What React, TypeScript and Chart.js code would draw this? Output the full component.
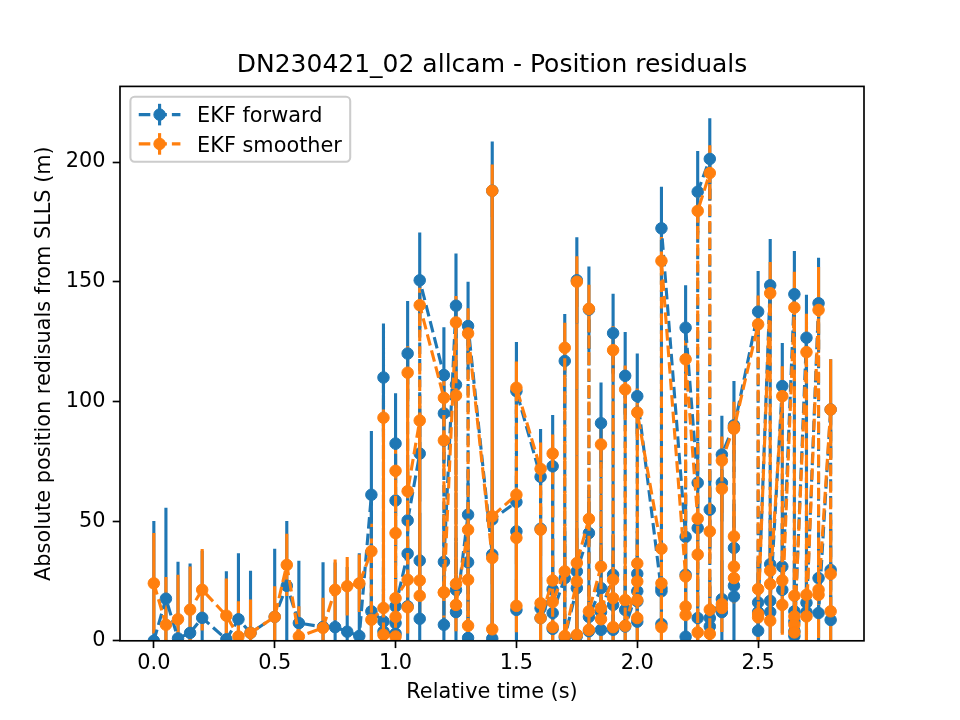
import { useEffect, useRef } from "react";
import { Chart, registerables } from "chart.js";

Chart.register(...registerables);

const TITLE = "DN230421_02 allcam - Position residuals";
const X_LABEL = "Relative time (s)";
const Y_LABEL = "Absolute position redisuals from SLLS (m)";
const SERIES_NAMES = ["EKF forward", "EKF smoother"];
const SERIES_COLORS = ["#1f77b4", "#ff7f0e"];
const X_TICKS = [0, 0.5, 1.0, 1.5, 2.0, 2.5];
const Y_TICKS = [0, 50, 100, 150, 200];

// Filter time steps and the 1-sigma position uncertainty (m) at each step
const STEP_TIMES = [
  0, 0.05, 0.1, 0.15, 0.2, 0.3, 0.35, 0.4, 0.5, 0.55, 0.6, 0.7, 0.75, 0.8, 0.85,
  0.9, 0.95, 1.0, 1.05, 1.1, 1.2, 1.25, 1.3, 1.4, 1.5, 1.6, 1.65, 1.7, 1.75, 1.8,
  1.85, 1.9, 1.95, 2.0, 2.1, 2.2, 2.25, 2.3, 2.35, 2.4, 2.5, 2.55, 2.6, 2.65, 2.7,
  2.75, 2.8,
];
const FORWARD_SIGMA = [
  50, 38, 32, 29, 28, 28.5, 27.6, 26, 28.5, 27, 26, 27, 27, 27, 34.6,
  26.6, 22.6, 21, 22, 20, 20, 21.8, 18.5, 20.6, 20.5, 20, 21.4, 19.6, 18, 18,
  17, 16.5, 18.3, 17.8, 17.4, 17.7, 17, 17, 16.2, 18.5, 17, 19.3, 18, 18, 18,
  19, 21,
];
const SMOOTHER_SIGMA = [
  21, 20, 18.6, 18, 17, 15.5, 14.7, 14, 12.8, 13, 12.6, 12.6, 12.7, 12.2, 12,
  11.5, 8, 10.5, 11, 11, 11, 11, 10.5, 11, 11, 11, 8, 10.5, 10.6, 10,
  10, 10, 10, 10, 10, 10, 10, 11.6, 10, 10.5, 12, 13, 12.5, 15, 16,
  18, 21,
];

// One entry per camera observation: time (s), forward and smoothed residuals (m)
const OBS_TIMES = [
  0, 0.05, 0.1, 0.15, 0.2, 0.3, 0.35, 0.4, 0.5, 0.55, 0.6, 0.7, 0.75, 0.8, 0.85,
  0.9, 0.9,
  0.95, 0.95, 0.95,
  1.0, 1.0, 1.0, 1.0, 1.0,
  1.05, 1.05, 1.05, 1.05,
  1.1, 1.1, 1.1, 1.1,
  1.2, 1.2, 1.2, 1.2,
  1.25, 1.25, 1.25, 1.25,
  1.3, 1.3, 1.3, 1.3,
  1.4, 1.4, 1.4, 1.4,
  1.5, 1.5, 1.5, 1.5,
  1.6, 1.6, 1.6, 1.6,
  1.65, 1.65, 1.65, 1.65,
  1.7, 1.7, 1.7,
  1.75, 1.75, 1.75, 1.75,
  1.8, 1.8, 1.8, 1.8,
  1.85, 1.85, 1.85, 1.85,
  1.9, 1.9, 1.9, 1.9,
  1.95, 1.95, 1.95,
  2.0, 2.0, 2.0, 2.0, 2.0,
  2.1, 2.1, 2.1, 2.1,
  2.2, 2.2, 2.2, 2.2,
  2.25, 2.25, 2.25, 2.25,
  2.3, 2.3, 2.3, 2.3,
  2.35, 2.35, 2.35, 2.35,
  2.4, 2.4, 2.4, 2.4, 2.4,
  2.5, 2.5, 2.5, 2.5,
  2.55, 2.55, 2.55, 2.55,
  2.6, 2.6, 2.6,
  2.65, 2.65, 2.65, 2.65, 2.65,
  2.7, 2.7, 2.7,
  2.75, 2.75, 2.75,
  2.8, 2.8, 2.8,
];
const FORWARD_RESID = [
  0, 17.6, 1, 3.3, 9.6, 0.6, 9, 3.3, 10, 23, 7.4, 5.8, 5.7, 3.8, 2,
  61, 12.3,
  8.1, 110, 3.9,
  3, 82.4, 58.6, 7.4, 14.4,
  36.4, 14.4, 120, 50.3,
  78.2, 33.5, 9.2, 150.6,
  111, 95, 6.7, 33,
  140, 21.3, 107, 12,
  52.7, 32.8, 1.2, 131.5,
  36, 188, 0.9, 50.7,
  58, 12.9, 45.7, 104.3,
  68.5, 13.6, 46.8, 9.5,
  21.4, 72.9, 5, 11.6,
  26.2, 116.9, 1.4,
  22, 150.6, 2, 29,
  45, 138.4, 4, 10,
  22, 90.9, 4.6, 12,
  27.6, 128.5, 4.6, 15,
  12.9, 110.7, 6,
  20.7, 28, 8, 16.5, 102.2,
  20.7, 22, 7, 172.3,
  43.4, 27.6, 1.7, 130.8,
  66, 9.5, 47.1, 187.6,
  201.3, 54.8, 6, 9.5,
  17.4, 66, 12, 77.8,
  90, 23, 18.5, 38.8, 89,
  137.5, 16, 4.2, 12,
  148.5, 32, 12, 16.7,
  106.4, 31, 21.3,
  144.8, 12.3, 8.1, 4, 2,
  126.6, 15.9, 12,
  141, 26.2, 11.6,
  96.6, 29.6, 8.7,
];
const SMOOTHER_RESID = [
  24, 6.7, 9, 13, 21.3, 10.5, 1.8, 3.3, 10, 31.7, 1.8, 5.4, 21.3, 22.8, 24,
  37.4, 8.8,
  13.7, 93.2, 2.5,
  1.8, 71, 45, 10, 17.8,
  25.5, 14, 112, 62.5,
  92, 25.2, 18.8, 140.2,
  101.5, 83.7, 20.2, 20.2,
  133, 23.8, 102.5, 15,
  46.4, 25.5, 6.3, 128.4,
  34.6, 188, 4.8, 52,
  61, 14.6, 43, 105.7,
  71.8, 15.7, 46.4, 9.5,
  25.2, 78.2, 5.7, 16.2,
  29, 122.4, 2,
  24.8, 150, 2.5, 32.5,
  50.9, 138.7, 4.6, 12.3,
  31, 82, 9, 13.7,
  25.5, 121.4, 5.7, 17.8,
  17, 105, 6.3,
  24.8, 32.3, 9.5, 17, 95.4,
  38.5, 24, 5.7, 158.7,
  26.9, 14.3, 10.8, 117.6,
  51, 3.5, 36, 179.6,
  195.4, 45.7, 2.9, 13,
  15.3, 63.5, 13.7, 75.3,
  89.4, 31, 26.2, 43.6, 88.6,
  132.2, 21.6, 9.8, 11.2,
  145.2, 29.3, 8.4, 23.7,
  102.2, 25.2, 15,
  139.2, 18.8, 10.2, 6.7, 3.5,
  120.6, 19.2, 10.2,
  138.2, 21.3, 19.2,
  96.6, 27.9, 12.3,
];

// Figure geometry (150 dpi, so 1 pt = 150/72 px)
const PT = 150 / 72;
const FONT = "DejaVu Sans";
const LABEL_SIZE = 10 * PT;
const LINE_W = 1.5 * PT;
const DASH = [3.7 * 1.5 * PT, 1.6 * 1.5 * PT];
const MARKER_R = 3 * PT - 0.5;
const TICK_LEN = 3.5 * PT;
const SPINE_W = 0.8 * PT;

const sigmaFor = (table: number[], t: number) => table[STEP_TIMES.indexOf(t)];
const FORWARD_ERR = OBS_TIMES.map((t) => sigmaFor(FORWARD_SIGMA, t));
const SMOOTHER_ERR = OBS_TIMES.map((t) => sigmaFor(SMOOTHER_SIGMA, t));
const SERIES_VALUES = [FORWARD_RESID, SMOOTHER_RESID];
const SERIES_ERRS = [FORWARD_ERR, SMOOTHER_ERR];

// Vertical error bars of both series, drawn beneath all lines and markers
const errorBarPlugin = {
  id: "errorBars",
  beforeDatasetsDraw(chart: any) {
    const { ctx, chartArea, scales } = chart;
    const yScale = scales.y;
    ctx.save();
    ctx.beginPath();
    ctx.rect(chartArea.left, chartArea.top, chartArea.right - chartArea.left, chartArea.bottom - chartArea.top);
    ctx.clip();
    SERIES_VALUES.forEach((vals, di) => {
      const meta = chart.getDatasetMeta(di);
      const errs = SERIES_ERRS[di];
      ctx.strokeStyle = SERIES_COLORS[di];
      ctx.lineWidth = LINE_W;
      ctx.lineCap = "butt";
      ctx.beginPath();
      meta.data.forEach((pt: any, i: number) => {
        ctx.moveTo(pt.x, yScale.getPixelForValue(vals[i] + errs[i]));
        ctx.lineTo(pt.x, yScale.getPixelForValue(vals[i] - errs[i]));
      });
      ctx.stroke();
    });
    ctx.restore();
  },
};

// Axes frame on all four sides
const framePlugin = {
  id: "frame",
  afterDatasetsDraw(chart: any) {
    const { ctx, chartArea } = chart;
    ctx.save();
    ctx.strokeStyle = "#000";
    ctx.lineWidth = SPINE_W;
    ctx.strokeRect(chartArea.left, chartArea.top, chartArea.right - chartArea.left, chartArea.bottom - chartArea.top);
    ctx.restore();
  },
};

// Legend box in the upper-left corner of the axes
const legendPlugin = {
  id: "legendBox",
  afterDraw(chart: any) {
    const { ctx, chartArea } = chart;
    const fs = LABEL_SIZE;
    const pad = 0.4 * fs;
    const handleLen = 2 * fs;
    const handleGap = 0.8 * fs;
    const rowH = 18.9;
    const rowGap = 0.5 * fs;
    ctx.save();
    ctx.font = `${fs}px "${FONT}"`;
    const textW = Math.max(...SERIES_NAMES.map((n) => ctx.measureText(n).width));
    const x0 = chartArea.left + 0.5 * fs;
    const y0 = chartArea.top + 0.5 * fs;
    const w = pad * 2 + handleLen + handleGap + textW;
    const h = pad * 2 + rowH * 2 + rowGap;
    const r = 0.2 * fs;
    ctx.beginPath();
    ctx.moveTo(x0 + r, y0);
    ctx.arcTo(x0 + w, y0, x0 + w, y0 + h, r);
    ctx.arcTo(x0 + w, y0 + h, x0, y0 + h, r);
    ctx.arcTo(x0, y0 + h, x0, y0, r);
    ctx.arcTo(x0, y0, x0 + w, y0, r);
    ctx.closePath();
    ctx.fillStyle = "rgba(255,255,255,0.8)";
    ctx.fill();
    ctx.strokeStyle = "#cccccc";
    ctx.lineWidth = PT;
    ctx.stroke();

    SERIES_NAMES.forEach((name, i) => {
      const cy = y0 + pad + rowH / 2 + i * (rowH + rowGap);
      const hx = x0 + pad;
      const color = SERIES_COLORS[i];
      ctx.strokeStyle = color;
      ctx.lineWidth = LINE_W;
      ctx.lineCap = "butt";
      ctx.beginPath();
      ctx.moveTo(hx + handleLen / 2, cy - 10.8);
      ctx.lineTo(hx + handleLen / 2, cy + 10.8);
      ctx.stroke();
      ctx.setLineDash(DASH);
      ctx.beginPath();
      ctx.moveTo(hx, cy);
      ctx.lineTo(hx + handleLen, cy);
      ctx.stroke();
      ctx.setLineDash([]);
      ctx.beginPath();
      ctx.arc(hx + handleLen / 2, cy, MARKER_R, 0, Math.PI * 2);
      ctx.fillStyle = color;
      ctx.fill();
      ctx.lineWidth = 1;
      ctx.stroke();
      ctx.fillStyle = "#000";
      ctx.textBaseline = "alphabetic";
      ctx.textAlign = "left";
      ctx.fillText(name, hx + handleLen + handleGap, cy + 0.3645 * fs);
    });
    ctx.restore();
  },
};

export default function App() {
  const canvasRef = useRef<HTMLCanvasElement>(null);

  useEffect(() => {
    if (!canvasRef.current) return;
    Chart.defaults.font.family = FONT;
    Chart.defaults.color = "#000";

    const datasets = SERIES_NAMES.map((name, di) => ({
      label: name,
      data: OBS_TIMES.map((t, i) => ({ x: t, y: SERIES_VALUES[di][i] })),
      borderColor: SERIES_COLORS[di],
      backgroundColor: SERIES_COLORS[di],
      borderWidth: LINE_W,
      borderDash: DASH,
      borderJoinStyle: "round" as const,
      pointRadius: MARKER_R,
      pointBorderWidth: 1,
      pointBackgroundColor: SERIES_COLORS[di],
      pointBorderColor: SERIES_COLORS[di],
      tension: 0,
      clip: 0,
      order: 2 - di,
    }));

    const tickFont = { family: FONT, size: LABEL_SIZE };

    const chart = new Chart(canvasRef.current, {
      type: "line",
      data: { datasets },
      plugins: [errorBarPlugin, framePlugin, legendPlugin],
      options: {
        responsive: false,
        maintainAspectRatio: false,
        animation: false,
        devicePixelRatio: 1,
        layout: { padding: { left: 0, right: 96, top: 0, bottom: 0 } },
        plugins: {
          legend: { display: false },
          tooltip: { enabled: false },
          title: {
            display: true,
            text: TITLE,
            fullSize: false,
            color: "#000",
            font: { family: FONT, size: 12 * PT, weight: "normal", lineHeight: 1.2 },
            padding: { top: 50, bottom: 6.4 },
          },
        },
        scales: {
          x: {
            type: "linear",
            min: -0.14,
            max: 2.938,
            afterFit: (s: any) => {
              s.height = 720 - 640.8;
            },
            afterBuildTicks: (s: any) => {
              s.ticks = X_TICKS.map((v) => ({ value: v }));
            },
            ticks: {
              callback: (v: any) => Number(v).toFixed(1),
              font: tickFont,
              color: "#000",
              padding: 3.3,
              autoSkip: false,
              maxRotation: 0,
            },
            grid: {
              drawOnChartArea: false,
              drawTicks: true,
              tickLength: TICK_LEN,
              tickWidth: SPINE_W,
              tickColor: "#000",
            },
            border: { display: false },
            title: {
              display: true,
              text: X_LABEL,
              color: "#000",
              font: { family: FONT, size: LABEL_SIZE, lineHeight: 1.2 },
              padding: { top: 0, bottom: 14.5 },
            },
          },
          y: {
            type: "linear",
            min: 0,
            max: 231.6,
            afterFit: (s: any) => {
              s.width = 120;
            },
            afterBuildTicks: (s: any) => {
              s.ticks = Y_TICKS.map((v) => ({ value: v }));
            },
            ticks: {
              callback: (v: any) => String(v),
              font: tickFont,
              color: "#000",
              padding: TICK_LEN,
              autoSkip: false,
            },
            grid: {
              drawOnChartArea: false,
              drawTicks: true,
              tickLength: TICK_LEN,
              tickWidth: SPINE_W,
              tickColor: "#000",
            },
            border: { display: false },
            title: {
              display: true,
              text: Y_LABEL,
              color: "#000",
              font: { family: FONT, size: LABEL_SIZE, lineHeight: 1.2 },
              padding: { top: 32.5, bottom: 0 },
            },
          },
        },
      } as any,
    });

    return () => chart.destroy();
  }, []);

  return (
    <div style={{ position: "fixed", left: 0, top: 0, width: 960, height: 720, background: "#fff" }}>
      <canvas ref={canvasRef} width={960} height={720} style={{ display: "block", width: 960, height: 720 }} />
    </div>
  );
}
